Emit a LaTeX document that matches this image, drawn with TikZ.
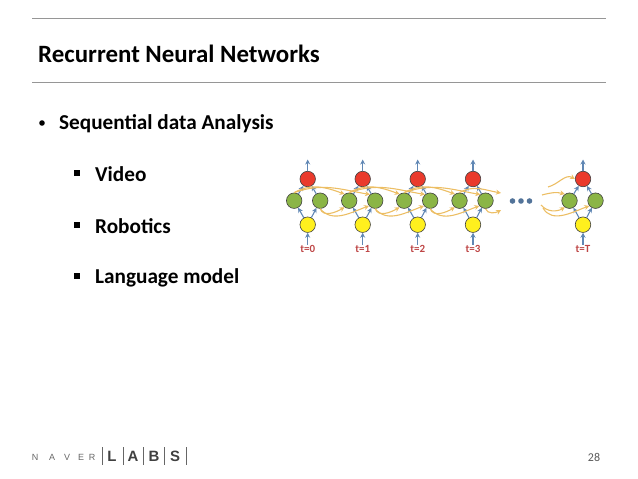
\documentclass[tikz,border=0pt]{standalone}
\usepackage{fontspec}
\setmainfont{Carlito}
\newfontfamily\logofont{Liberation Sans}
\usetikzlibrary{positioning,calc,arrows.meta}
\definecolor{RuleGray}{RGB}{150,150,150}
\definecolor{NodeRed}{RGB}{234,58,44}
\definecolor{NodeGreen}{RGB}{139,181,70}
\definecolor{NodeYellow}{RGB}{255,240,30}
\definecolor{ArrowBlue}{RGB}{96,135,180}
\definecolor{ArrowOrange}{RGB}{236,190,100}
\definecolor{LabelRed}{RGB}{190,70,70}

\begin{document}
\begin{tikzpicture}[
		x=1bp, y=-1bp,
		unit/.style={circle, draw=black!75, line width=0.6pt, minimum size=15.5bp, inner sep=0pt},
		redunit/.style={unit, fill=NodeRed},
		greenunit/.style={unit, fill=NodeGreen},
		yellowunit/.style={unit, fill=NodeYellow},
		flow/.style={-{Stealth[length=5bp,width=5bp]}, ArrowBlue, line width=1.1pt},
		recur/.style={-{Stealth[length=5bp,width=5bp]}, ArrowOrange, line width=1.1pt},
		tlabel/.style={font=\bfseries\fontsize{11}{13}\selectfont, text=LabelRed, inner sep=0pt},
		head/.style={font=\bfseries\fontsize{25}{30}\selectfont, anchor=base west, inner sep=0pt},
		item/.style={font=\bfseries\fontsize{21.3}{25}\selectfont, anchor=base west, inner sep=0pt},
		mark box/.style={fill=black, minimum size=6.6bp, inner sep=0pt},
		logo/.style={font=\logofont\bfseries\fontsize{15}{18}\selectfont, text=black!75, anchor=base, inner sep=0pt},
		logosep/.style={black!60, line width=0.7pt},
		dotmark/.style={circle, fill=ArrowBlue!85!black, minimum size=5.6bp, inner sep=0pt}
		]
		\useasboundingbox (0,0) rectangle (638,479);
		
		% ===== rules and text =====
		\draw[RuleGray, line width=1pt] (32,19) -- (606,19);
		\draw[RuleGray, line width=1pt] (32,83) -- (606,83);
		\node[head] (title) at (38,62.5) {Recurrent Neural Networks};
		
		\node[circle, fill=black, minimum size=5.6bp, inner sep=0pt] (b0) at (42,123) {};
		\node[item] (seq) at (59,129.5) {Sequential data Analysis};
		\node[mark box] (b1) at (77,173) {};
		\node[item] (video) at (95,181.5) {Video};
		\node[mark box] (b2) at (77,225) {};
		\node[item] (robo) at (95,233.5) {Robotics};
		\node[mark box] (b3) at (77,276) {};
		\node[item] (lang) at (95,283.5) {Language model};
		
		% ===== time steps =====
		\foreach \x/\t [count=\i from 1] in {307.7/0,362.7/1,417.7/2,473/3,583/T}{
			\node[yellowunit] (Y\i) at (\x,224.7) {};
			\node[greenunit] (GL\i) at ({\x-13.5},200.7) {};
			\node[greenunit] (GR\i) at ({\x+12.5},200.7) {};
			\node[redunit] (R\i) at (\x,179) {};
			\node[tlabel] (T\i) at (\x,248.5) {t=\t};
			\coordinate (O\i) at (\x,159.5);
			\draw[flow] (T\i) -- (Y\i);
			\draw[flow] (Y\i) -- (GL\i);
			\draw[flow] (Y\i) -- (GR\i);
			\draw[flow] (GL\i) -- (R\i);
			\draw[flow] (GR\i) -- (R\i);
			\draw[flow] (R\i) -- (O\i);
		}
		
		% ===== recurrent links =====
		\foreach \i/\j in {1/2,2/3,3/4}{
			\draw[recur] (GL\i.north) to[out=30,in=160] (GL\j.125);
			\draw[recur] (GL\i.north) to[out=20,in=170] (GR\j.130);
			\draw[recur] (GR\i.south) to[out=-70,in=210] (GL\j.235);
			\draw[recur] (GR\i.south) to[out=-50,in=200] (GR\j.220);
		}
		
		% ===== free ends after t=3 and before t=T =====
		\coordinate (E1) at (501,193);
		\coordinate (E3) at (501,210);
		\draw[recur] (GL4.north) to[out=30,in=170] (E1);
		\draw[recur] (GR4.south) to[out=-70,in=210] (E3);
		
		\coordinate (S1) at (548,187);
		\coordinate (S2) at (542,195);
		\coordinate (S3) at (541,205);
		\coordinate (S4) at (543,208);
		\draw[recur] (S1) to[out=15,in=150] (R5.west);
		\draw[recur] (S2) to[out=15,in=165] (GL5.125);
		\draw[recur] (S3) to[out=-50,in=210] (GL5.235);
		\draw[recur] (S4) to[out=-60,in=200] (GR5.220);
		
		\node[dotmark] (D1) at (512.5,201) {};
		\node[dotmark] (D2) at (521,201) {};
		\node[dotmark] (D3) at (529.5,201) {};
		
		% ===== footer =====
		\foreach \c/\x [count=\i from 1] in {N/35,A/52,V/67,E/81,R/92}{
			\node[font=\logofont\fontsize{9}{10}\selectfont, text=black!60, anchor=base, inner sep=0pt] (N\i) at (\x,460) {\c};
		}
		\node[logo] (LA) at (112,461) {L};
		\node[logo] (LB) at (133,461) {A};
		\node[logo] (LC) at (154,461) {B};
		\node[logo] (LD) at (175,461) {S};
		\foreach \x in {102,123,143,164,186}{
			\draw[logosep] (\x,447) -- (\x,465);
		}
		\node[font=\fontsize{12}{14}\selectfont, text=black!65, anchor=base, inner sep=0pt] (page) at (594,461) {28};
	\end{tikzpicture}
\end{document}
